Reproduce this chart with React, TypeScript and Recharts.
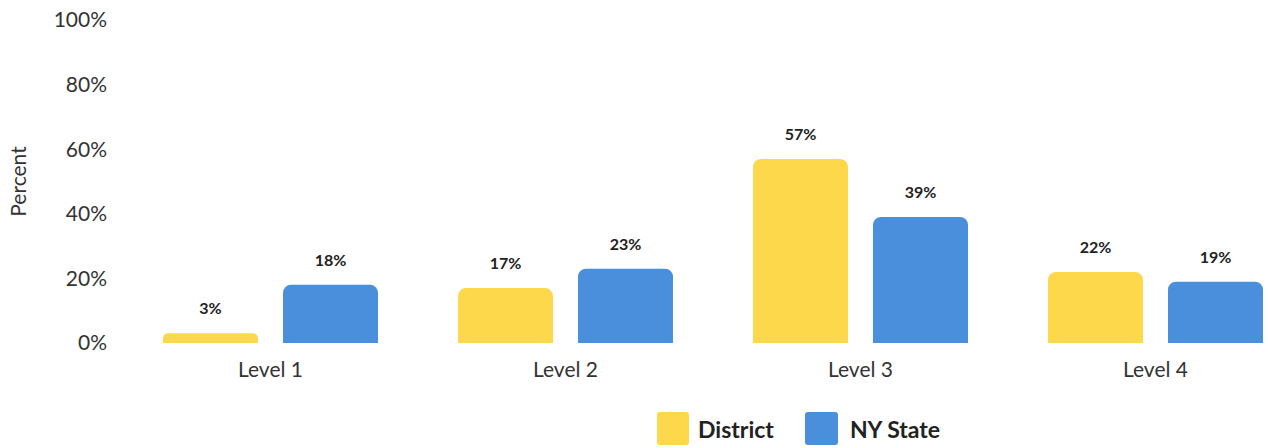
import React from "react";
import { BarChart, Bar, XAxis, YAxis, Legend, LabelList } from "recharts";

const categories = ["Level 1", "Level 2", "Level 3", "Level 4"];
const districtValues = [3, 17, 57, 22];
const stateValues = [18, 23, 39, 19];
const yTicks = [0, 20, 40, 60, 80, 100];

const data = categories.map((name, i) => ({
  name,
  District: districtValues[i],
  "NY State": stateValues[i],
}));

const YELLOW = "#FDD84B";
const BLUE = "#4A8FDC";
const FONT = "Lato, 'Open Sans', sans-serif";

const LegendContent = () => (
  <div style={{ display: "flex", alignItems: "center", fontFamily: FONT, fontWeight: 700, fontSize: 23, color: "#222" }}>
    <div style={{ width: 32, height: 33, background: YELLOW, borderRadius: 3 }} />
    <span style={{ marginLeft: 9, marginRight: 31 }}>District</span>
    <div style={{ width: 33, height: 33, background: BLUE, borderRadius: 3 }} />
    <span style={{ marginLeft: 12 }}>NY State</span>
  </div>
);

export default function App() {
  return (
    <div style={{ position: "absolute", left: 0, top: 0, width: 1268, height: 448, overflow: "hidden", background: "#fff" }}>
      <BarChart
        width={1310}
        height={448}
        data={data}
        margin={{ top: 20, right: 7, left: 0, bottom: 41 }}
        barCategoryGap={40}
        barGap={25}
      >
        <XAxis
          dataKey="name"
          axisLine={false}
          tickLine={false}
          tickSize={0}
          tickMargin={19}
          height={30}
          tick={{ fontFamily: FONT, fontSize: 21, fill: "#333" }}
        />
        <YAxis
          domain={[0, 100]}
          ticks={yTicks}
          width={123}
          axisLine={false}
          tickLine={false}
          tickSize={0}
          tickMargin={16}
          tickFormatter={(v: number) => `${v}%`}
          tick={{ fontFamily: FONT, fontSize: 21, fill: "#333" }}
          label={{
            value: "Percent",
            angle: -90,
            position: "insideLeft",
            offset: 19,
            style: { fontFamily: FONT, fontSize: 21, fill: "#333", textAnchor: "middle" },
          }}
        />
        <Legend
          content={<LegendContent />}
          wrapperStyle={{ position: "absolute", left: 657, top: 412, width: 320, height: 34 }}
        />
        <Bar dataKey="District" fill={YELLOW} radius={[8, 8, 0, 0]} isAnimationActive={false}>
          <LabelList
            dataKey="District"
            position="top"
            offset={19}
            formatter={(v: number) => `${v}%`}
            style={{ fontFamily: FONT, fontSize: 16, fontWeight: 700, fill: "#222" }}
          />
        </Bar>
        <Bar dataKey="NY State" fill={BLUE} radius={[8, 8, 0, 0]} isAnimationActive={false}>
          <LabelList
            dataKey="NY State"
            position="top"
            offset={19}
            formatter={(v: number) => `${v}%`}
            style={{ fontFamily: FONT, fontSize: 16, fontWeight: 700, fill: "#222" }}
          />
        </Bar>
      </BarChart>
    </div>
  );
}
